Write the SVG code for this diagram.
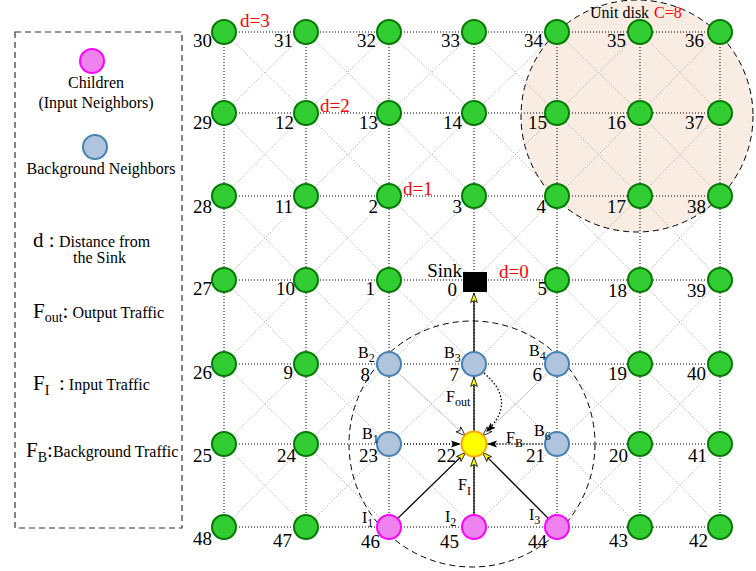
<svg xmlns="http://www.w3.org/2000/svg" width="756" height="571" viewBox="0 0 756 571">
<defs>
<style>
text{font-family:"Liberation Serif","Times New Roman",serif;fill:#000}
.num{font-size:19px;text-anchor:end}
.red{fill:#ff0000;font-size:19px}
.lg{font-size:16px}
.big{font-size:21px}
.bl{font-size:16px}
.sub{font-size:12px}
.g{fill:#32cd32;stroke:#007a00;stroke-width:2}
.b{fill:#b0c4de;stroke:#4682b4;stroke-width:2}
.m{fill:#ee82ee;stroke:#ff00ff;stroke-width:2}
.y{fill:#ffff00;stroke:#ffa500;stroke-width:2}
.ortho{fill:none;stroke:#000;stroke-width:1;stroke-dasharray:1 2}
.diag{fill:none;stroke:#9a9a9a;stroke-width:1;stroke-dasharray:1 2}
.solid{fill:none;stroke:#000;stroke-width:1.3}
.dash{fill:none;stroke:#000;stroke-width:1;stroke-dasharray:6 4}
</style>
<marker id="ay" viewBox="0 0 10 8" refX="10" refY="4" markerWidth="10" markerHeight="8" markerUnits="userSpaceOnUse" orient="auto"><path d="M0.5,0.6 L10,4 L0.5,7.4 L2.5,4 z" fill="#ffff00" stroke="#000" stroke-width="0.8"/></marker>
<marker id="ab" viewBox="0 0 10 8" refX="10" refY="4" markerWidth="10" markerHeight="8" markerUnits="userSpaceOnUse" orient="auto"><path d="M0,0.5 L10,4 L0,7.5 L2,4 z" fill="#000"/></marker>
<marker id="aw" viewBox="0 0 10 8" refX="10" refY="4" markerWidth="10" markerHeight="8" markerUnits="userSpaceOnUse" orient="auto"><path d="M0.5,0.6 L10,4 L0.5,7.4 L2.5,4 z" fill="#fff" stroke="#000" stroke-width="0.8"/></marker>
</defs>
<rect width="756" height="571" fill="#fff"/>

<g id="legend">
<rect x="15" y="32" width="167" height="496" fill="none" stroke="#333" stroke-width="1.2" stroke-dasharray="6 4"/>
<circle cx="92" cy="61" r="12" class="m"/>
<text x="96" y="88" class="lg" text-anchor="middle">Children</text>
<text x="96" y="108" class="lg" text-anchor="middle">(Input Neighbors)</text>
<circle cx="95" cy="147" r="12" class="b"/>
<text x="101" y="174" class="lg" text-anchor="middle">Background Neighbors</text>
<text x="33" y="247" class="big">d :</text>
<text x="59" y="247" class="lg">Distance from</text>
<text x="73" y="263" class="lg">the Sink</text>
<text x="33" y="318" class="big">F<tspan font-size="14" dy="4">out</tspan><tspan dy="-4">:</tspan><tspan class="lg"> Output Traffic</tspan></text>
<text x="33" y="390" class="big">F<tspan font-size="14" dy="5">I</tspan></text>
<text x="59" y="390" class="big">:<tspan class="lg"> Input Traffic</tspan></text>
<text x="26" y="457" class="big">F<tspan font-size="14" dy="5">B</tspan><tspan dy="-5">:</tspan><tspan class="lg">Background Traffic</tspan></text>
</g>

<g id="unit-disk">
<circle cx="637" cy="116" r="116" fill="#f9ede3" stroke="#000" stroke-width="1" stroke-dasharray="6 4"/>
<text x="590" y="18" class="lg">Unit disk</text>
<text x="654" y="18" class="lg" style="fill:#ff0000">C=8</text>
</g>

<g id="grid-links">
<path class="diag" d="M224,32L306,113L389,32L474,113L557,32L640,113L720,32M224,113L306,32L389,113L474,32L557,113L640,32L720,113
M224,113L306,196L389,113L474,196L557,113L640,196L720,113M224,196L306,113L389,196L474,113L557,196L640,113L720,196
M224,196L306,280L389,196L474,280L557,196L640,280L720,196M224,280L306,196L389,280L474,196L557,280L640,196L720,280
M224,280L306,364L389,280L474,364L557,280L640,364L720,280M224,364L306,280L389,364L474,280L557,364L640,280L720,364
M224,364L306,444L389,364L474,444L557,364L640,444L720,364M224,444L306,364L389,444L474,364L557,444L640,364L720,444
M224,444L306,527L389,444L474,527L557,444L640,527L720,444M224,527L306,444L389,527L474,444L557,527L640,444L720,527"/>
<path class="ortho" d="M224,32H720M224,113H720M224,196H720M224,280H720M224,364H720M224,444H720M224,527H720
M224,32V527M306,32V527M389,32V527M474,32V527M557,32V527M640,32V527M720,32V527"/>
</g>

<g id="range-disk">
<circle cx="472" cy="444" r="123" class="dash"/>
</g>

<g id="connectors">
<path class="solid" d="M474,352V293" marker-end="url(#ay)"/>
<path class="solid" d="M474,431V377" marker-end="url(#ay)"/>
<path class="solid" d="M397.5,518.6L465.5,452.4" marker-end="url(#ay)"/>
<path class="solid" d="M474,515V457" marker-end="url(#ay)"/>
<path class="solid" d="M548.5,518.6L482.5,452.4" marker-end="url(#ay)"/>
<path class="ortho" d="M401,444H461" marker-end="url(#ab)"/>
<path class="ortho" d="M545,444H487" marker-end="url(#ab)"/>
<path class="diag" d="M397.7,372.2L465.3,435.8" marker-end="url(#aw)"/>
<path class="diag" d="M548.3,372.2L482.7,435.8" marker-end="url(#aw)"/>
<path fill="none" stroke="#000" stroke-width="1.3" stroke-dasharray="1.5 2" d="M484,373Q518,402 486,432" marker-end="url(#ab)"/>
<text x="446" y="402" class="bl">F<tspan class="sub" dy="4">out</tspan></text>
<text x="458" y="490" class="bl">F<tspan class="sub" dy="5">I</tspan></text>
<text x="506" y="443" class="bl">F<tspan class="sub" dy="4">B</tspan></text>
</g>

<g id="distance-labels">
<text x="240" y="27" class="red">d=3</text>
<text x="320" y="112" class="red">d=2</text>
<text x="403" y="195" class="red">d=1</text>
<text x="499" y="278" class="red">d=0</text>
</g>

<g id="sink"><rect x="463" y="272" width="24" height="20" fill="#000"/><text x="462" y="277" class="num">Sink</text><text x="457" y="296" class="num">0</text></g>

<g id="n30"><circle cx="224" cy="32" r="12" class="g"/><text x="212" y="47" class="num">30</text></g>
<g id="n31"><circle cx="306" cy="32" r="12" class="g"/><text x="293" y="47" class="num">31</text></g>
<g id="n32"><circle cx="389" cy="32" r="12" class="g"/><text x="376" y="47" class="num">32</text></g>
<g id="n33"><circle cx="474" cy="32" r="12" class="g"/><text x="460" y="47" class="num">33</text></g>
<g id="n34"><circle cx="557" cy="32" r="12" class="g"/><text x="543" y="47" class="num">34</text></g>
<g id="n35"><circle cx="640" cy="32" r="12" class="g"/><text x="626" y="47" class="num">35</text></g>
<g id="n36"><circle cx="720" cy="32" r="12" class="g"/><text x="704" y="47" class="num">36</text></g>

<g id="n29"><circle cx="224" cy="113" r="12" class="g"/><text x="212" y="129" class="num">29</text></g>
<g id="n12"><circle cx="306" cy="113" r="12" class="g"/><text x="294" y="129" class="num">12</text></g>
<g id="n13"><circle cx="389" cy="113" r="12" class="g"/><text x="378" y="129" class="num">13</text></g>
<g id="n14"><circle cx="474" cy="113" r="12" class="g"/><text x="462" y="129" class="num">14</text></g>
<g id="n15"><circle cx="557" cy="113" r="12" class="g"/><text x="547" y="129" class="num">15</text></g>
<g id="n16"><circle cx="640" cy="113" r="12" class="g"/><text x="626" y="129" class="num">16</text></g>
<g id="n37"><circle cx="720" cy="113" r="12" class="g"/><text x="704" y="129" class="num">37</text></g>

<g id="n28"><circle cx="224" cy="196" r="12" class="g"/><text x="212" y="213" class="num">28</text></g>
<g id="n11"><circle cx="306" cy="196" r="12" class="g"/><text x="293" y="213" class="num">11</text></g>
<g id="n2"><circle cx="389" cy="196" r="12" class="g"/><text x="378" y="213" class="num">2</text></g>
<g id="n3"><circle cx="474" cy="196" r="12" class="g"/><text x="462" y="213" class="num">3</text></g>
<g id="n4"><circle cx="557" cy="196" r="12" class="g"/><text x="546" y="213" class="num">4</text></g>
<g id="n17"><circle cx="640" cy="196" r="12" class="g"/><text x="626" y="213" class="num">17</text></g>
<g id="n38"><circle cx="720" cy="196" r="12" class="g"/><text x="706" y="213" class="num">38</text></g>

<g id="n27"><circle cx="224" cy="280" r="12" class="g"/><text x="212" y="295" class="num">27</text></g>
<g id="n10"><circle cx="306" cy="280" r="12" class="g"/><text x="295" y="295" class="num">10</text></g>
<g id="n1"><circle cx="389" cy="280" r="12" class="g"/><text x="375" y="295" class="num">1</text></g>
<g id="n5"><circle cx="557" cy="280" r="12" class="g"/><text x="547" y="295" class="num">5</text></g>
<g id="n18"><circle cx="640" cy="280" r="12" class="g"/><text x="627" y="297" class="num">18</text></g>
<g id="n39"><circle cx="720" cy="280" r="12" class="g"/><text x="706" y="297" class="num">39</text></g>

<g id="n26"><circle cx="224" cy="364" r="12" class="g"/><text x="212" y="379" class="num">26</text></g>
<g id="n9"><circle cx="306" cy="364" r="12" class="g"/><text x="293" y="379" class="num">9</text></g>
<g id="n8"><circle cx="389" cy="364" r="12" class="b"/><text x="370" y="381" class="num">8</text><text x="358" y="358" class="bl">B<tspan class="sub" dy="4">2</tspan></text></g>
<g id="n7"><circle cx="474" cy="364" r="12" class="b"/><text x="459" y="381" class="num">7</text><text x="444" y="358" class="bl">B<tspan class="sub" dy="4">3</tspan></text></g>
<g id="n6"><circle cx="557" cy="364" r="12" class="b"/><text x="542" y="381" class="num">6</text><text x="529" y="356" class="bl">B<tspan class="sub" dy="4">4</tspan></text></g>
<g id="n19"><circle cx="640" cy="364" r="12" class="g"/><text x="627" y="380" class="num">19</text></g>
<g id="n40"><circle cx="720" cy="364" r="12" class="g"/><text x="706" y="380" class="num">40</text></g>

<g id="n25"><circle cx="224" cy="444" r="12" class="g"/><text x="212" y="462" class="num">25</text></g>
<g id="n24"><circle cx="306" cy="444" r="12" class="g"/><text x="296" y="462" class="num">24</text></g>
<g id="n23"><circle cx="389" cy="444" r="12" class="b"/><text x="378" y="462" class="num">23</text><text x="362" y="439" class="bl">B<tspan class="sub" dy="4">1</tspan></text></g>
<g id="n22"><circle cx="474" cy="444" r="12.5" class="y"/><text x="456" y="462" class="num">22</text></g>
<g id="n21"><circle cx="557" cy="444" r="12" class="b"/><text x="545" y="462" class="num">21</text><text x="534" y="436" class="bl">B<tspan class="sub" dy="4">6</tspan></text></g>
<g id="n20"><circle cx="640" cy="444" r="12" class="g"/><text x="628" y="462" class="num">20</text></g>
<g id="n41"><circle cx="720" cy="444" r="12" class="g"/><text x="707" y="462" class="num">41</text></g>

<g id="n48"><circle cx="224" cy="527" r="12" class="g"/><text x="212" y="545" class="num">48</text></g>
<g id="n47"><circle cx="306" cy="527" r="12" class="g"/><text x="292" y="547" class="num">47</text></g>
<g id="n46"><circle cx="389" cy="527" r="12" class="m"/><text x="380" y="548" class="num">46</text><text x="362" y="523" class="bl">I<tspan class="sub" dy="4">1</tspan></text></g>
<g id="n45"><circle cx="474" cy="527" r="12" class="m"/><text x="459" y="548" class="num">45</text><text x="445" y="522" class="bl">I<tspan class="sub" dy="4">2</tspan></text></g>
<g id="n44"><circle cx="557" cy="527" r="12" class="m"/><text x="547" y="548" class="num">44</text><text x="529" y="520" class="bl">I<tspan class="sub" dy="4">3</tspan></text></g>
<g id="n43"><circle cx="640" cy="527" r="12" class="g"/><text x="628" y="547" class="num">43</text></g>
<g id="n42"><circle cx="720" cy="527" r="12" class="g"/><text x="708" y="547" class="num">42</text></g>
</svg>
